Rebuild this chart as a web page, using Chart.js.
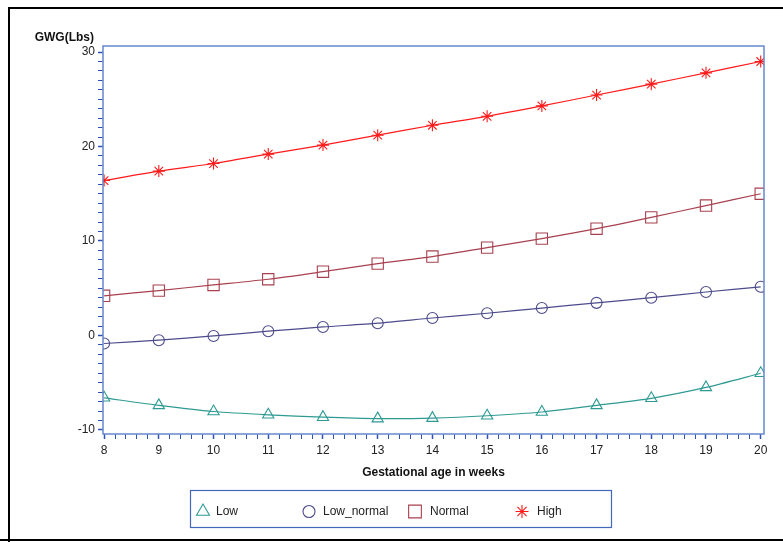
<!DOCTYPE html>
<html>
<head>
<meta charset="utf-8">
<script src="https://cdn.jsdelivr.net/npm/chart.js@4.4.1/dist/chart.umd.min.js"></script>
<style>
  html, body { margin: 0; padding: 0; background: #fff; }
  #wrap { position: relative; width: 783px; height: 542px; }
</style>
</head>
<body>
<div id="wrap"><canvas id="chart-1" width="783" height="542"></canvas></div>
<script>
// data
const weeks = [8, 9, 10, 11, 12, 13, 14, 15, 16, 17, 18, 19, 20];
const lowVals = [-6.6, -7.4, -8.05, -8.4, -8.65, -8.8, -8.75, -8.5, -8.1, -7.4, -6.65, -5.5, -4.0];
const lowNormalVals = [-0.85, -0.5, -0.05, 0.45, 0.9, 1.3, 1.85, 2.35, 2.9, 3.45, 4.0, 4.6, 5.15];
const normalVals = [4.2, 4.75, 5.35, 5.95, 6.75, 7.6, 8.35, 9.3, 10.25, 11.3, 12.5, 13.75, 15.0];
const highVals = [16.4, 17.4, 18.2, 19.2, 20.15, 21.2, 22.25, 23.2, 24.3, 25.45, 26.6, 27.8, 29.0];
const seriesNames = ['Low', 'Low_normal', 'Normal', 'High'];
const xTickLabels = [8, 9, 10, 11, 12, 13, 14, 15, 16, 17, 18, 19, 20];
const yTickLabels = [-10, 0, 10, 20, 30];

const colors = ['#2e9a93', '#4c4b8c', '#a8404f', '#ff1a1a'];
const styles = ['triangle', 'circle', 'rect', 'star'];
const radii = [6.5, 5.5, 8, 6];
const legendRadii = [7.5, 6, 9, 6.5];
const frameColor = '#6688cc';
const tickBlue = '#2f52b0';

const pts = (vals) => vals.map((v, i) => ({ x: weeks[i], y: v }));
const allVals = [lowVals, lowNormalVals, normalVals, highVals];

const datasets = allVals.map((vals, i) => ({
  label: seriesNames[i],
  data: pts(vals),
  borderColor: colors[i],
  backgroundColor: 'transparent',
  borderWidth: 1.2,
  pointStyle: styles[i],
  pointRadius: radii[i],
  pointBorderColor: colors[i],
  pointBackgroundColor: 'transparent',
  pointBorderWidth: 1.1,
  tension: 0.25,
  fill: false
}));

const decorations = {
  id: 'decorations',
  afterDraw(chart) {
    const c = chart.ctx;
    const a = chart.chartArea;
    c.save();
    // plot frame
    c.strokeStyle = frameColor;
    c.lineWidth = 1.5;
    c.strokeRect(a.left, a.top, a.right - a.left, a.bottom - a.top);
    // outer border
    c.strokeStyle = '#000';
    c.lineWidth = 2;
    c.beginPath();
    c.moveTo(9, 600);
    c.lineTo(9, 8);
    c.lineTo(800, 8);
    c.moveTo(0, 540);
    c.lineTo(800, 540);
    c.stroke();
    // titles
    c.fillStyle = '#111';
    c.font = 'bold 12px "Liberation Sans", Arial, sans-serif';
    c.textAlign = 'right';
    c.textBaseline = 'middle';
    c.fillText('GWG(Lbs)', 94, 38);
    c.textAlign = 'center';
    c.fillText('Gestational age in weeks', (a.left + a.right) / 2, 473);
    // legend
    c.strokeStyle = '#4466bb';
    c.lineWidth = 1.2;
    c.strokeRect(190.5, 490.5, 421, 37);
    const lx = [203, 309, 415, 522];
    const tx = [216, 323, 430, 537];
    c.font = '12px "Liberation Sans", Arial, sans-serif';
    c.textAlign = 'left';
    seriesNames.forEach((name, i) => {
      c.strokeStyle = colors[i];
      c.fillStyle = 'transparent';
      c.lineWidth = 1.1;
      Chart.helpers.drawPoint(c, {
        pointStyle: styles[i],
        radius: legendRadii[i],
        rotation: 0,
        borderWidth: 1.1
      }, lx[i], 511.5);
      c.fillStyle = '#222';
      c.fillText(name, tx[i], 512);
    });
    c.restore();
  }
};

const tickFont = { family: '"Liberation Sans", Arial, sans-serif', size: 12 };

new Chart(document.getElementById('chart-1').getContext('2d'), {
  type: 'line',
  data: { datasets: datasets },
  options: {
    responsive: false,
    animation: false,
    layout: { padding: { left: 0, top: 46, right: 19, bottom: 0 } },
    plugins: { legend: { display: false }, tooltip: { enabled: false } },
    scales: {
      x: {
        type: 'linear',
        min: 7.98,
        max: 20.06,
        afterBuildTicks: (axis) => {
          const t = [];
          for (let k = 0; k <= 60; k++) t.push({ value: Math.round((8 + k * 0.2) * 10) / 10 });
          axis.ticks = t;
        },
        afterFit: (scale) => { scale.height = 108; },
        grid: {
          drawOnChartArea: false,
          tickLength: 5,
          tickColor: tickBlue,
          tickWidth: (ctx) => (ctx.tick && Number.isInteger(ctx.tick.value) ? 1.5 : 1)
        },
        border: { display: false },
        ticks: {
          autoSkip: false,
          maxRotation: 0,
          padding: 4,
          color: '#222',
          font: tickFont,
          callback: (v) => (xTickLabels.includes(v) ? String(v) : '')
        }
      },
      y: {
        min: -10.43,
        max: 30.64,
        afterBuildTicks: (axis) => {
          const t = [];
          for (let k = -10; k <= 30; k++) t.push({ value: k });
          axis.ticks = t;
        },
        afterFit: (scale) => { scale.width = 103; },
        grid: {
          drawOnChartArea: false,
          tickLength: 5,
          tickColor: tickBlue,
          tickWidth: (ctx) => (ctx.tick && ctx.tick.value % 10 === 0 ? 1.5 : 1)
        },
        border: { display: false },
        ticks: {
          autoSkip: false,
          padding: 3,
          color: '#222',
          font: tickFont,
          callback: (v) => (yTickLabels.includes(v) ? String(v) : '')
        }
      }
    }
  },
  plugins: [decorations]
});
</script>
</body>
</html>
